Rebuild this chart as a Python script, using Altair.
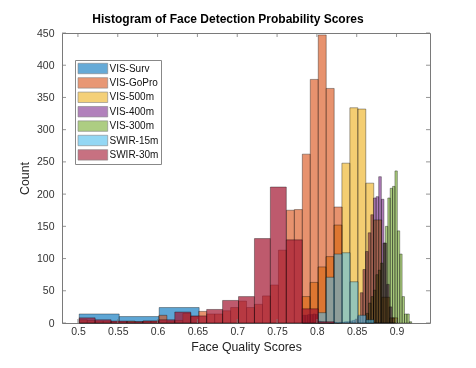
import altair as alt
import pandas as pd

FONT = "Liberation Sans"

series = ["VIS-Surv", "VIS-GoPro", "VIS-500m", "VIS-400m", "VIS-300m", "SWIR-15m", "SWIR-30m"]
colors = ["#0072BD", "#D95319", "#EDB120", "#7E2F8E", "#77AC30", "#4DBEEE", "#A2142F"]

# bin start, bin width, counts for each series
surv_start, surv_width = 0.5016, 0.0502
surv_counts = [14, 10, 24]

gopro_start, gopro_width = 0.5017, 0.01
gopro_counts = [5, 4, 3, 3, 2, 2, 3, 2, 3, 3, 12, 3, 4, 15, 10, 18, 14, 14, 19, 24,
                34, 24, 29, 42, 59, 113, 175, 176, 262, 378, 447, 364, 180]

v500_start, v500_width = 0.7814, 0.01
v500_counts = [41, 63, 87, 103, 152, 248, 334, 332, 217, 160, 40, 8]

v400_start, v400_width = 0.7819, 0.0033
v400_counts = [12, 12, 13, 13, 14, 13, 3, 2, 1, 1, 0, 0, 1, 0, 1, 1, 2, 2, 3, 4, 6,
               10, 47, 83, 111, 140, 168, 194, 196, 227, 192, 124, 60, 25, 8]

v300_start, v300_width = 0.862, 0.003
v300_counts = [15, 31, 41, 51, 75, 82, 93, 124, 150, 194, 209, 212, 236, 143, 107, 41, 14, 14, 2]

swir15_start, swir15_width = 0.8017, 0.01
swir15_counts = [16, 71, 107, 109, 64, 12, 5]

swir30_start, swir30_width = 0.5016, 0.02
swir30_counts = [8, 5, 3, 2, 3, 5, 17, 11, 21, 35, 41, 131, 211, 129, 22, 2]

x_ticks = [0.5, 0.55, 0.6, 0.65, 0.7, 0.75, 0.8, 0.85, 0.9]
y_ticks = [0, 50, 100, 150, 200, 250, 300, 350, 400, 450]

specs = [
    ("VIS-Surv", surv_start, surv_width, surv_counts),
    ("VIS-GoPro", gopro_start, gopro_width, gopro_counts),
    ("VIS-500m", v500_start, v500_width, v500_counts),
    ("VIS-400m", v400_start, v400_width, v400_counts),
    ("VIS-300m", v300_start, v300_width, v300_counts),
    ("SWIR-15m", swir15_start, swir15_width, swir15_counts),
    ("SWIR-30m", swir30_start, swir30_width, swir30_counts),
]
multiply_series = {"VIS-500m", "VIS-400m", "VIS-300m"}
face_alpha = {"SWIR-15m": 0.55, "SWIR-30m": 0.7}

rows = []
for name, start, width, counts in specs:
    for i, c in enumerate(counts):
        lo = start + i * width
        rows.append({"series": name, "x0": lo, "x1": lo + width, "count": c, "base": 0})
df = pd.DataFrame(rows)

W, H = 368, 290
AX = "#7a7a7a"

xscale = alt.Scale(domain=[0.48, 0.942], nice=False, zero=False)
yscale = alt.Scale(domain=[0, 450], nice=False)
xaxis = alt.Axis(values=x_ticks, format=".2~f", grid=False, domain=False, ticks=False,
                 labelFontSize=10.5, labelColor="#333333", labelFont=FONT, labelPadding=3,
                 title="Face Quality Scores", titleFont=FONT, titleFontSize=12.3,
                 titleFontWeight="normal", titleColor="#222222", titlePadding=4)
yaxis = alt.Axis(values=y_ticks, grid=False, domain=False, ticks=False,
                 labelFontSize=10.5, labelColor="#333333", labelFont=FONT, labelPadding=8,
                 title="Count", titleFont=FONT, titleFontSize=12.3,
                 titleFontWeight="normal", titleColor="#222222", titlePadding=5)

legend = alt.Legend(orient="none", legendX=13, legendY=27, title=None,
                    symbolType="M-1,-0.95L4.4,-0.95L4.4,0.95L-1,0.95Z", symbolSize=121,
                    symbolOpacity=0.6, symbolStrokeColor="#333333", symbolStrokeWidth=0.6,
                    labelFont=FONT, labelFontSize=10, labelColor="#111111", labelOffset=20,
                    rowPadding=0.4, padding=2.5, fillColor="white", strokeColor="#888888")

color = alt.Color("series:N", scale=alt.Scale(domain=series, range=colors), legend=legend)

layers = []
for name, _, _, _ in specs:
    mk = dict(fillOpacity=face_alpha.get(name, 0.63), stroke="#000000",
              strokeWidth=0.5, strokeOpacity=0.7)
    if name in multiply_series:
        mk["blend"] = "multiply"
    layers.append(
        alt.Chart(df).transform_filter(alt.datum.series == name)
        .mark_rect(**mk)
        .encode(x=alt.X("x0:Q", scale=xscale, axis=xaxis), x2="x1:Q",
                y=alt.Y("count:Q", scale=yscale, axis=yaxis), y2="base:Q", color=color)
    )

xt = alt.Chart(pd.DataFrame({"x0": x_ticks})).mark_rule(color=AX, strokeWidth=0.8)
yt = alt.Chart(pd.DataFrame({"count": y_ticks})).mark_rule(color=AX, strokeWidth=0.8)
layers += [
    xt.encode(x=alt.X("x0:Q", scale=xscale, axis=xaxis), y=alt.value(H), y2=alt.value(H - 4)),
    xt.encode(x=alt.X("x0:Q", scale=xscale, axis=xaxis), y=alt.value(0), y2=alt.value(4)),
    yt.encode(y=alt.Y("count:Q", scale=yscale, axis=yaxis), x=alt.value(0), x2=alt.value(4)),
    yt.encode(y=alt.Y("count:Q", scale=yscale, axis=yaxis), x=alt.value(W - 4), x2=alt.value(W)),
]

chart = alt.layer(*layers).properties(
    width=W, height=H,
    padding={"left": 54, "top": 25, "right": 38, "bottom": 37},
    autosize=alt.AutoSizeParams(type="none"),
    title=alt.Title("Histogram of Face Detection Probability Scores", font=FONT, fontSize=12,
                    fontWeight="bold", color="#000000", anchor="middle", dx=-18, offset=2),
).configure_view(stroke=AX, strokeWidth=1)

chart.save("out.html", embed_options={"renderer": "svg", "actions": False})
